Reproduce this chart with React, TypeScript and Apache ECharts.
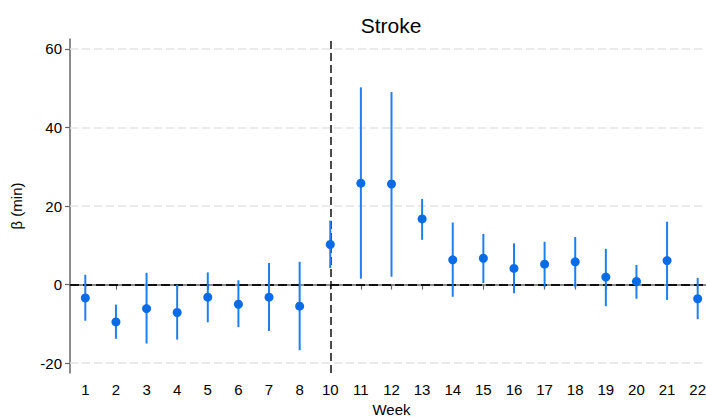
import React, { useEffect, useRef } from "react";
import * as echarts from "echarts";

const weeks = ["1", "2", "3", "4", "5", "6", "7", "8", "10", "11", "12", "13", "14", "15", "16", "17", "18", "19", "20", "21", "22"];
const beta = [-3.4, -9.5, -6.1, -7.1, -3.2, -5.0, -3.2, -5.5, 10.2, 25.8, 25.6, 16.7, 6.3, 6.7, 4.1, 5.2, 5.8, 1.9, 0.8, 6.1, -3.6];
const ciLow = [-9.2, -13.8, -15.0, -14.0, -9.6, -10.8, -11.8, -16.7, 4.2, 1.5, 2.0, 11.4, -3.1, 0.4, -2.2, -0.6, -0.7, -5.5, -3.6, -3.9, -8.8];
const ciHigh = [2.5, -5.1, 3.0, 0.0, 3.1, 1.1, 5.5, 5.8, 16.3, 50.2, 49.0, 21.8, 15.8, 12.9, 10.5, 10.9, 12.1, 9.1, 5.0, 16.0, 1.7];
const yTicks = [-20, 0, 20, 40, 60];
const gridValues = [-20, 20, 40, 60];

const FONT = "'Liberation Sans', Arial, Helvetica, sans-serif";

export default function App() {
  const ref = useRef<HTMLDivElement>(null);
  useEffect(() => {
    if (!ref.current) return;
    const chart = echarts.init(ref.current, undefined, { renderer: "svg" });
    const errData = weeks.map((_, i) => [i, ciLow[i], ciHigh[i]]);
    const ptData = weeks.map((_, i) => [i, beta[i]]);
    chart.setOption({
      animation: false,
      backgroundColor: "#ffffff",
      textStyle: { fontFamily: FONT },
      graphic: [
        {
          type: "text",
          x: 391,
          y: 25,
          style: {
            text: "Stroke",
            font: `21px ${FONT}`,
            fill: "#000",
            align: "center",
            verticalAlign: "middle",
          },
        },
      ],
      grid: { left: 70, top: 39, width: 643, height: 334, containLabel: false, outerBoundsMode: "none" },
      xAxis: {
        type: "category",
        data: weeks,
        boundaryGap: true,
        name: "Week",
        nameLocation: "middle",
        nameGap: 27,
        nameTextStyle: { color: "#000", fontSize: 15, fontFamily: FONT, lineHeight: 15 },
        axisLine: { show: true, lineStyle: { color: "#666", width: 1.5 } },
        axisTick: { show: true, alignWithLabel: true, length: 5, lineStyle: { color: "#666", width: 1.2 } },
        axisLabel: { color: "#000", fontSize: 15, margin: 9, interval: 0, fontFamily: FONT },
        splitLine: { show: false },
      },
      yAxis: {
        type: "value",
        min: -22.5,
        max: 62.5,
        name: "β (min)",
        nameLocation: "middle",
        nameGap: 46,
        nameTextStyle: { color: "#000", fontSize: 15, fontFamily: FONT },
        axisLine: { show: true, lineStyle: { color: "#666", width: 1.5 } },
        axisTick: { show: true, length: 5, customValues: yTicks, lineStyle: { color: "#666", width: 1.2 } },
        axisLabel: { color: "#000", fontSize: 15, margin: 8, customValues: yTicks, fontFamily: FONT },
        splitLine: { show: false },
      },
      series: [
        {
          type: "custom",
          data: errData,
          z: 3,
          renderItem: (params: any, api: any) => {
            const p1 = api.coord([api.value(0), api.value(1)]);
            const p2 = api.coord([api.value(0), api.value(2)]);
            return {
              type: "line",
              shape: { x1: p1[0], y1: p1[1], x2: p2[0], y2: p2[1] },
              style: { stroke: "#1f7ff2", lineWidth: 2 },
            };
          },
          markLine: {
            silent: true,
            symbol: "none",
            label: { show: false },
            z: 1,
            data: gridValues.map((v) => ({
              yAxis: v,
              lineStyle: { color: "#e4e4e4", width: 1.5, type: [8, 4] },
            })),
          },
        },
        {
          type: "scatter",
          data: ptData,
          symbol: "circle",
          symbolSize: 9,
          z: 4,
          itemStyle: { color: "#0a6be6", opacity: 1 },
          markLine: {
            silent: true,
            symbol: "none",
            label: { show: false },
            z: 2,
            data: [
              { yAxis: 0, lineStyle: { color: "#111", width: 2, type: [9, 4] } },
              { xAxis: 8, lineStyle: { color: "#111", width: 1.5, type: [8, 4] } },
            ],
          },
        },
      ],
    });
    return () => chart.dispose();
  }, []);
  return (
    <div
      ref={ref}
      style={{ position: "fixed", left: 0, top: 0, width: 706, height: 417, background: "#fff" }}
    />
  );
}
